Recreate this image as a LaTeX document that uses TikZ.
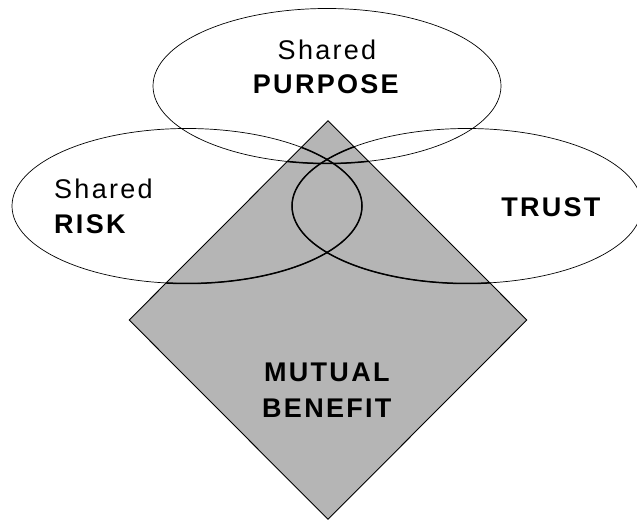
\documentclass[tikz,border=0pt]{standalone}
\usepackage{fontspec}
\setmainfont{Liberation Sans}
\newfontfamily\lsfont[LetterSpace=8.5]{Liberation Sans}
\usetikzlibrary{shapes.geometric}
\tikzset{
  oval/.style={ellipse, draw=black, line width=0.7pt, inner sep=0pt,
    minimum width=350pt, minimum height=155pt},
  dia/.style={diamond, draw=black, line width=0.9pt, fill=black!29, inner sep=0pt,
    minimum width=398pt, minimum height=399pt},
  lbl/.style={font=\lsfont\fontsize{27}{35}\selectfont, inner sep=0pt},
}
\begin{document}
\begin{tikzpicture}[x=1pt,y=-1pt]
\useasboundingbox (0,0) rectangle (637,521);
\node[dia] (benefit) at (328,320) {};
\node[oval, minimum width=348pt] (purpose) at (327,86) {};
\node[oval] (risk) at (187,206) {};
\node[oval] (trust) at (467,206) {};
\begin{scope}
\clip (benefit.north) -- (benefit.east) -- (benefit.south) -- (benefit.west) -- cycle;
\draw[line width=1.5pt] (purpose.center) ellipse [x radius=174pt, y radius=77.5pt];
\draw[line width=1.5pt] (risk.center) ellipse [x radius=175pt, y radius=77.5pt];
\draw[line width=1.5pt] (trust.center) ellipse [x radius=175pt, y radius=77.5pt];
\end{scope}
\node[lbl, align=center, font=\lsfont\fontsize{27}{34}\selectfont] (tpurpose) at (327,67) {Shared\\\textbf{PURPOSE}};
\node[lbl, align=left, anchor=west] (trisk) at (54,206) {Shared\\\textbf{RISK}};
\node[lbl] (ttrust) at (552,207) {\textbf{TRUST}};
\node[lbl, align=center, font=\lsfont\fontsize{27}{36}\selectfont] (tbenefit) at (328,390) {\textbf{MUTUAL}\\\textbf{BENEFIT}};
\end{tikzpicture}
\end{document}
